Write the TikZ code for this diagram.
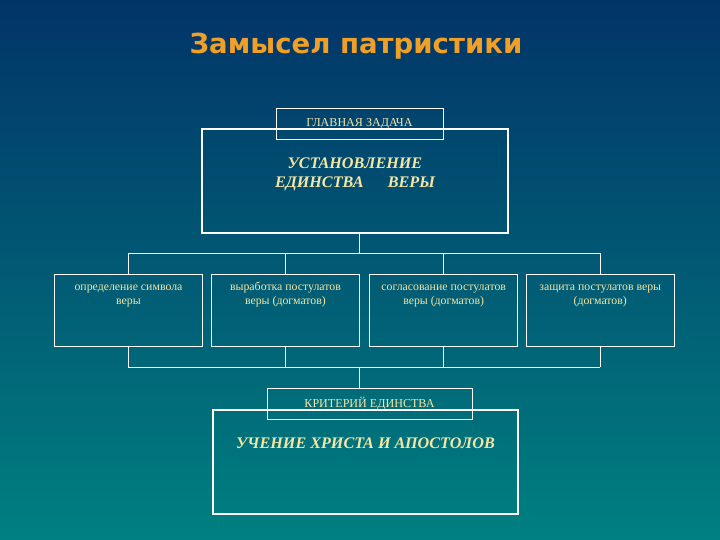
\documentclass[tikz,border=0pt]{standalone}
\usepackage{fontspec}
\setmainfont{Liberation Serif}
\newfontfamily\titlefont{DejaVu Sans}
\usepackage{xcolor}
\usepackage{tikz}
\usetikzlibrary{positioning, calc}
\definecolor{bgtop}{RGB}{2,52,104}
\definecolor{bgbot}{RGB}{0,128,128}
\definecolor{titleorange}{RGB}{240,160,40}
\definecolor{paleyellow}{RGB}{245,230,165}
\tikzset{
  big/.style={rectangle, draw=white, line width=1.4pt, minimum width=76.5mm, minimum height=26mm},
  tag/.style={rectangle, draw=white, line width=0.7pt, minimum height=7.75mm,
    font=\fontsize{8.6}{9}\selectfont, text=paleyellow},
  item/.style={rectangle, draw=white, line width=0.7pt, minimum width=37mm, minimum height=18mm},
  itxt/.style={font=\fontsize{8.4}{10.6}\selectfont, text=paleyellow, align=flush center,
    text width=36mm, anchor=base, yshift=-4mm},
  mtxt/.style={font=\fontsize{11.5}{14.2}\selectfont\bfseries\itshape, text=paleyellow, align=flush center,
    text width=70mm, anchor=base},
  link/.style={draw=white, line width=0.7pt}
}
\begin{document}
\begin{tikzpicture}[x=0.25mm, y=-0.25mm]
  \shade[top color=bgtop, bottom color=bgbot] (0,0) rectangle (720,540);
  \useasboundingbox (0,0) rectangle (720,540);
  \node[font=\titlefont\bfseries\fontsize{19.6}{23}\selectfont, text=titleorange, anchor=base] (title) at (356,53) {Замысел патристики};

  % main task
  \node[big, anchor=north west,
    label={[mtxt, yshift=-10mm]north:{УСТАНОВЛЕНИЕ\\ЕДИНСТВА\hspace{1.5em}ВЕРЫ}}] (goal) at (201,128) {};
  \node[tag, minimum width=41.75mm] (goaltag) at (359.5,123.5) {ГЛАВНАЯ ЗАДАЧА};

  % four directions
  \node[item, anchor=north west,
    label={[itxt]north:{определение символа\\веры}}] (sym) at (54,274) {};
  \node[item, right=2mm of sym,
    label={[itxt]north:{выработка постулатов\\веры (догматов)}}] (work) {};
  \node[item, right=2.3mm of work,
    label={[itxt]north:{согласование постулатов\\веры (догматов)}}] (agree) {};
  \node[item, right=1.9mm of agree,
    label={[itxt]north:{защита постулатов веры\\(догматов)}}] (defend) {};

  % criterion
  \node[big, anchor=north west, minimum width=76.25mm,
    label={[mtxt, yshift=-9.75mm]north:{УЧЕНИЕ ХРИСТА И АПОСТОЛОВ}}] (teach) at (212,409) {};
  \node[tag, minimum width=51.25mm] (crit) at (369.5,403.5) {КРИТЕРИЙ ЕДИНСТВА};

  \coordinate (up) at (359,253);
  \coordinate (down) at (359,367);
  \draw[link] (goal.south -| up) -- (up);
  \draw[link] (sym.north |- up) -- (defend.north |- up);
  \draw[link] (sym.north) -- (sym.north |- up);
  \draw[link] (work.north) -- (work.north |- up);
  \draw[link] (agree.north) -- (agree.north |- up);
  \draw[link] (defend.north) -- (defend.north |- up);

  \draw[link] (sym.south |- down) -- (defend.south |- down);
  \draw[link] (sym.south) -- (sym.south |- down);
  \draw[link] (work.south) -- (work.south |- down);
  \draw[link] (agree.south) -- (agree.south |- down);
  \draw[link] (defend.south) -- (defend.south |- down);
  \draw[link] (down) -- (crit.north -| down);
\end{tikzpicture}
\end{document}
